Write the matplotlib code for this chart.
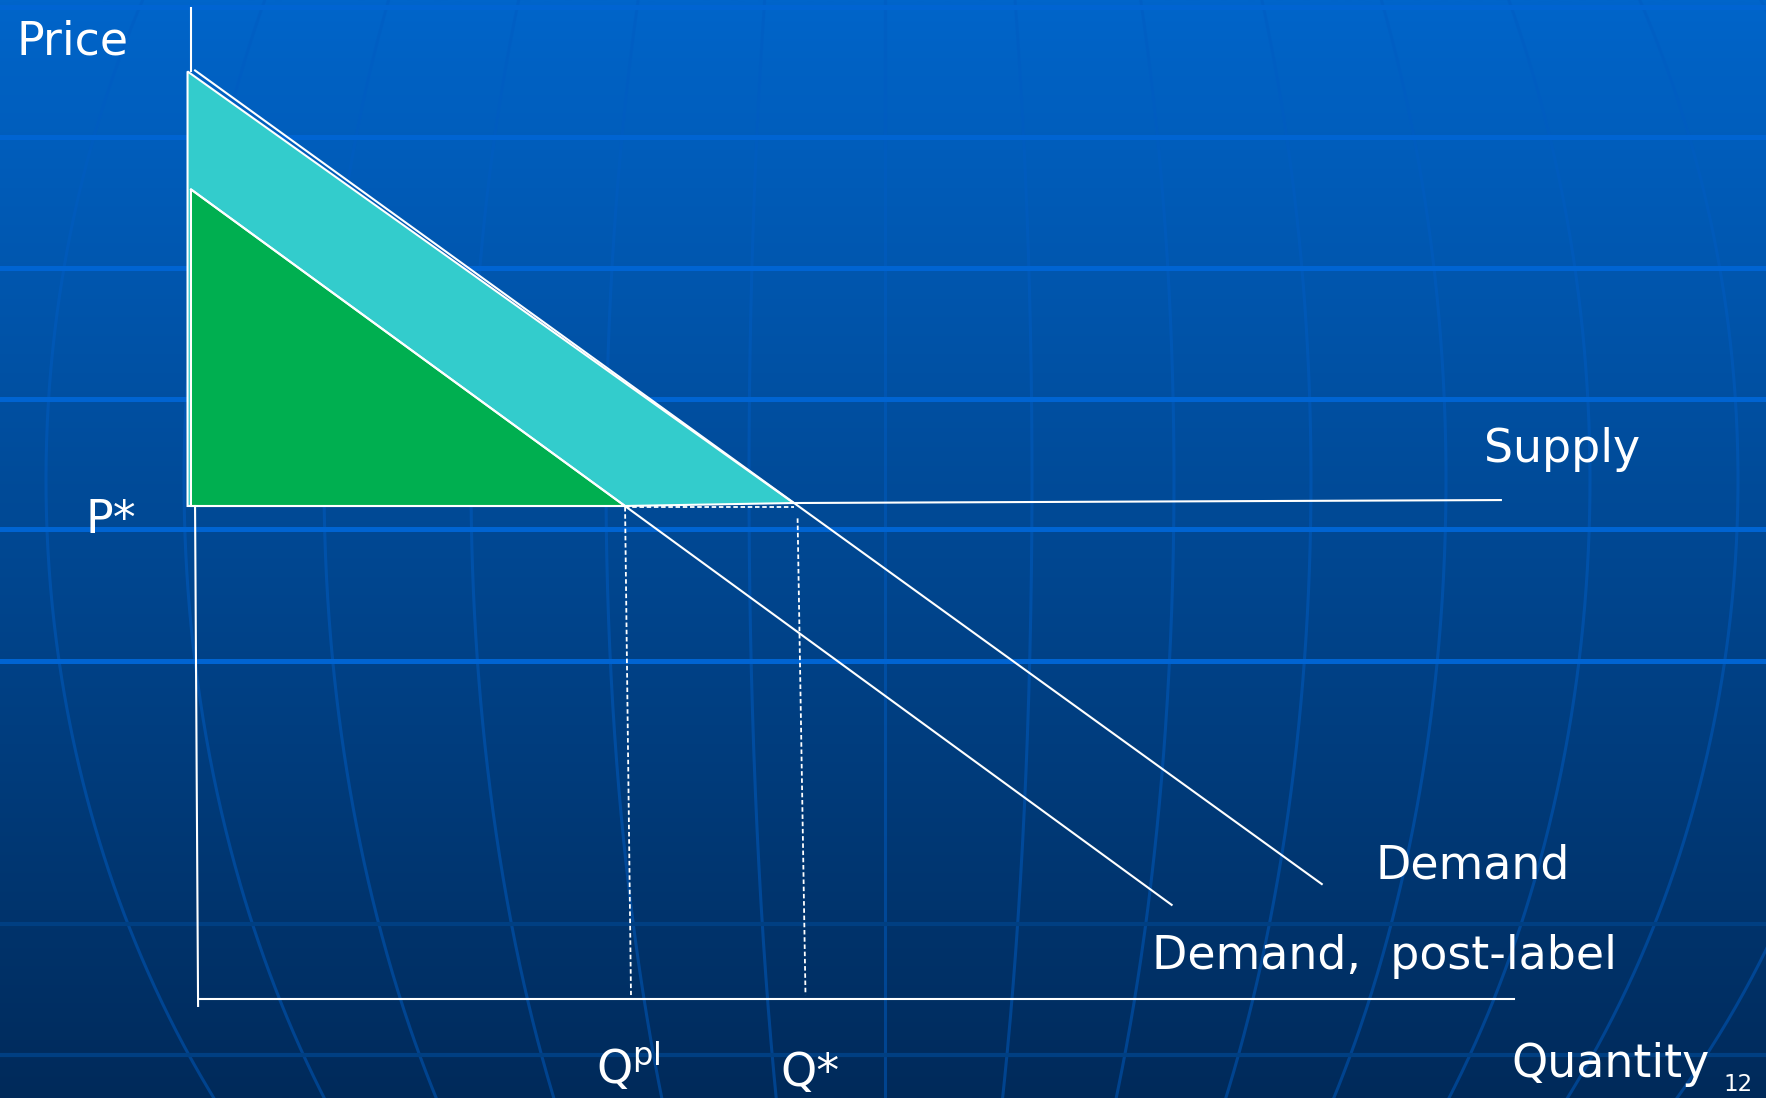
import numpy as np
import matplotlib
matplotlib.use("Agg")
import matplotlib.pyplot as plt

# ---- chart values (price / quantity units) ----
p_star = 49.75
demand_q = [-0.15, 85.4]
demand_p = [93.7, 11.6]
postlabel_q = [-0.46, 74.0]
postlabel_p = [81.7, 9.5]
q_star = 45.3
q_pl = 32.5
supply_q = [q_star, 99.0]
supply_p = [50.05, 50.35]

cyan_q = [-0.72, q_star, q_pl, -0.72]
cyan_p = [93.6, 50.05, p_star, p_star]
green_q = [-0.46, q_pl, -0.46]
green_p = [81.7, p_star, p_star]

yaxis_top_q = [-0.46, -0.46]
yaxis_top_p = [100.0, 93.6]
yaxis_low_q = [-0.15, 0.08]
yaxis_low_p = [p_star, -0.7]
xaxis_q = [0.15, 100.0]
xaxis_p = [0.0, 0.0]

qpl_drop_q = [q_pl, 32.95]
qstar_drop_q = [45.6, 46.2]
drop_p_top = [49.65, 48.5]
drop_p_bottom = 0.4

# ---- background texture (slide template, pixel units) ----
W, H = 1766, 1098
bright_rows = [7, 137, 268, 399, 529, 661]
faint_rows = [924, 1055]
meridian_offsets = [-839, -701, -561, -414, -279, -136, 0, 147, 289, 426, 561, 705, 853, 990]

fig = plt.figure(figsize=(W / 100, H / 100), dpi=100)

bg = fig.add_axes([0, 0, 1, 1], zorder=0)
bg.set_xlim(0, W)
bg.set_ylim(H, 0)
bg.axis("off")
top = np.array([0, 101, 202]) / 255
bot = np.array([0, 42, 90]) / 255
t = np.linspace(0, 1, 256)[:, None]
grad = (top[None, :] * (1 - t) + bot[None, :] * t)[:, None, :]
bg.imshow(grad, extent=[0, W, H, 0], aspect="auto", interpolation="bilinear")

yy = np.linspace(0, H, 300)
f = np.sqrt(1 - ((yy - 480) / 1030) ** 2)
for d in meridian_offsets:
    bg.plot(885 + d * f, yy, color=(0.0, 0.36, 0.76), alpha=0.5, lw=2.2)
for r in bright_rows:
    bg.axhline(r, color="#0064D2", lw=3.6)
for r in faint_rows:
    bg.axhline(r, color="#003F82", lw=3.0)

# ---- economic chart ----
ax = fig.add_axes([0, 0, 1, 1], zorder=1)
ax.patch.set_alpha(0)
ax.axis("off")
ax.set_xlim(-14.96, 119.13)
ax.set_ylim(-9.99, 100.81)

ax.fill(cyan_q, cyan_p, facecolor="#33CCCC", edgecolor="white", lw=1.5)
ax.fill(green_q, green_p, facecolor="#00AF50", edgecolor="white", lw=1.5)

ax.plot(demand_q, demand_p, color="white", lw=1.5)
ax.plot(postlabel_q, postlabel_p, color="white", lw=1.5)
ax.plot(supply_q, supply_p, color="white", lw=1.5)

ax.plot(yaxis_top_q, yaxis_top_p, color="white", lw=1.5)
ax.plot(yaxis_low_q, yaxis_low_p, color="white", lw=1.5)
ax.plot(xaxis_q, xaxis_p, color="white", lw=1.5)

dash = (0, (2.5, 1.5))
ax.plot([q_pl, q_star], [drop_p_top[0], drop_p_top[0]], color="white", lw=1.3, ls=dash)
ax.plot(qpl_drop_q, [drop_p_top[0], drop_p_bottom], color="white", lw=1.3, ls=dash)
ax.plot(qstar_drop_q, [drop_p_top[1], drop_p_bottom], color="white", lw=1.3, ls=dash)

txt = dict(color="white", fontsize=33, ha="left", va="baseline", family="DejaVu Sans")
ax.text(-13.67, 95.26, "Price", **txt)
ax.text(-8.5, 47.0, "P*", **txt)
ax.text(97.7, 54.2, "Supply", **txt)
ax.text(89.5, 12.2, "Demand", **txt)
ax.text(72.5, 3.0, "Demand,  post-label", **txt)
ax.text(30.3, -8.5, r"Q$^{\mathregular{pl}}$", **txt)
ax.text(44.3, -8.8, "Q*", **txt)
ax.text(99.8, -7.9, "Quantity", **txt)
ax.text(115.9, -9.3, "12", color="white", fontsize=16.5, ha="left", va="baseline")

fig.savefig("out.png", dpi=100)
